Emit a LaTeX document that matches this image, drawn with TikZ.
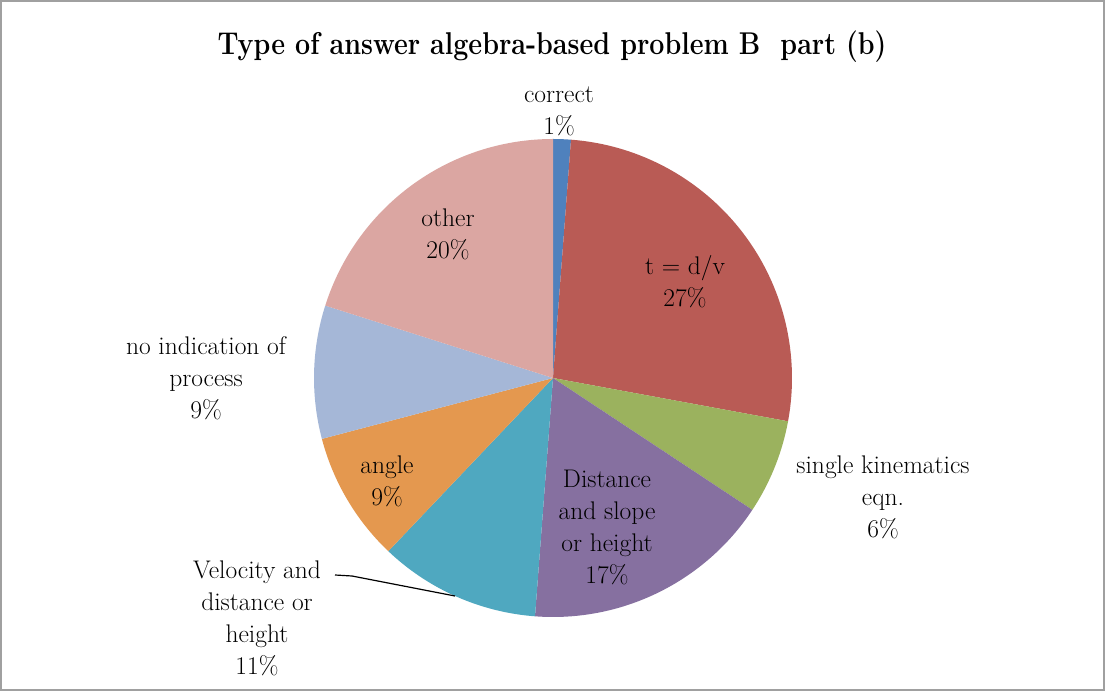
\documentclass[tikz,border=0pt]{standalone}
\usepackage{fontspec}
\usepackage{graphicx}
\definecolor{cBlue}{HTML}{4F81BD}
\definecolor{cRed}{HTML}{B95B55}
\definecolor{cGreen}{HTML}{9BB25E}
\definecolor{cPurple}{HTML}{8670A0}
\definecolor{cTeal}{HTML}{4FA8C0}
\definecolor{cOrange}{HTML}{E4984F}
\definecolor{cLBlue}{HTML}{A5B7D7}
\definecolor{cPink}{HTML}{DBA6A2}
\definecolor{cFrame}{HTML}{A0A0A0}
\begin{document}
\begin{tikzpicture}[x=1pt,y=1pt,
  lbl/.style={align=center,inner sep=0pt,font=\fontsize{25.5}{32}\selectfont}]
\useasboundingbox (0,0) rectangle (1105,691);
\fill[white] (0,0) rectangle (1105,691);
\draw[cFrame,line width=2pt] (1,1) rectangle (1104,690);
\coordinate (c) at (553,313);
\def\R{239}
\newcommand\pieslice[3]{\fill[#3] (c) -- ++(#1:\R) arc[start angle=#1,end angle=#2,radius=\R] -- cycle;}
\pieslice{90}{85.68}{cBlue}
\pieslice{85.68}{-10.44}{cRed}
\pieslice{-10.44}{-33.48}{cGreen}
\pieslice{-33.48}{-94.32}{cPurple}
\pieslice{-94.32}{-133.56}{cTeal}
\pieslice{-133.56}{-165.24}{cOrange}
\pieslice{-165.24}{-197.64}{cLBlue}
\pieslice{-197.64}{-270}{cPink}
\node[inner sep=0pt] (title) at (552,644) {\resizebox{669pt}{\height}{\fontsize{31.5}{36}\selectfont\bfseries Type of answer algebra-based problem B\ \ part (b)}};
\node[lbl] (correct) at (559,579.5) {correct\\1\%};
\node[lbl] (tdv) at (685,409) {t = d/v\\27\%};
\node[lbl] (single) at (883,194) {single kinematics\\eqn.\\6\%};
\node[lbl] (dist) at (607,163.5) {Distance\\and slope\\or height\\17\%};
\node[lbl] (vel) at (257,73) {Velocity and\\distance or\\height\\11\%};
\node[lbl] (angle) at (387,209.5) {angle\\9\%};
\node[lbl] (noind) at (206,313) {no indication of\\process\\9\%};
\node[lbl] (other) at (448,457) {other\\20\%};
\coordinate (l1) at (335,116);
\coordinate (l2) at (352,115);
\coordinate (l3) at (455,95);
\draw[black,line width=1.2pt] (l1) -- (l2) -- (l3);
\end{tikzpicture}
\end{document}
